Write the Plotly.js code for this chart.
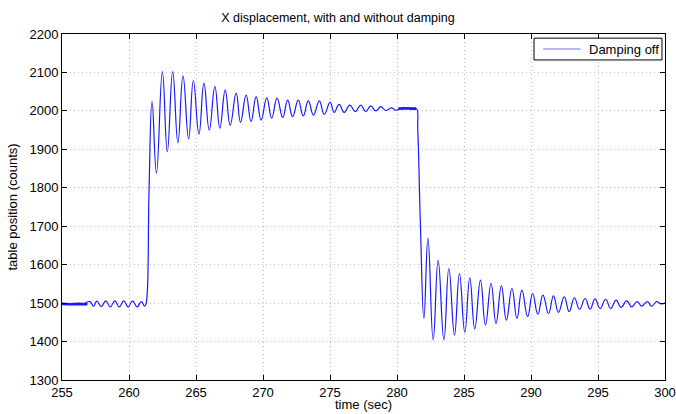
<!DOCTYPE html>
<html>
<head>
<meta charset="utf-8">
<script src="https://cdn.plot.ly/plotly-3.0.1.min.js"></script>
<style>html,body{margin:0;padding:0;background:#fff;}#chart{width:676px;height:414px;}</style>
</head>
<body>
<div id="chart"></div>
<script>
// Extrema and corner points
const timeSec = [
  255.0, 255.5, 256.0, 256.5, 257.08, 257.35, 257.6, 257.93, 258.27, 258.6, 258.94, 259.27, 259.61, 259.94, 260.26, 260.6, 260.93, 261.15, 261.25,
  261.35, 261.5, 261.72, 262.05, 262.49, 262.86, 263.26, 263.65, 264.03, 264.45, 264.80, 265.22, 265.59, 265.99, 266.41, 266.78, 267.18, 267.55, 268.0,
  268.32, 268.74, 269.11, 269.49, 269.86, 270.28, 270.65, 271.05, 271.47, 271.84, 272.21, 272.63, 273.0, 273.38, 273.77, 274.2, 274.57, 275.01,
  275.31, 275.68, 276.06, 276.48, 276.88, 277.30, 277.67, 278.04, 278.42, 278.79, 279.16, 279.58, 279.9, 280.3, 280.8, 281.2, 281.45,
  281.55, 281.75, 282.01, 282.31, 282.70, 283.07, 283.50, 283.87, 284.29, 284.66, 285.06, 285.43, 285.80, 286.23, 286.60, 287.02,
  287.39, 287.79, 288.16, 288.58, 288.95, 289.32, 289.75, 290.12, 290.51, 290.89, 291.31, 291.68, 292.05, 292.48, 292.85, 293.24,
  293.62, 294.04, 294.41, 294.78, 295.16, 295.57, 295.95, 296.35, 296.72, 297.14, 297.51, 297.93, 298.25, 298.68, 299.0, 299.37, 299.7, 300.0
];
const tablePosition = [
  1498, 1497, 1498, 1497, 1504, 1492, 1505, 1491, 1506, 1490, 1506, 1490, 1506, 1490, 1506, 1490, 1504, 1492, 1496,
  1520, 1800, 2024, 1838, 2102, 1894, 2102, 1917, 2091, 1927, 2079, 1940, 2072, 1950, 2063, 1955, 2054, 1963, 2046,
  1970, 2041, 1972, 2037, 1976, 2034, 1981, 2033, 1983, 2028, 1985, 2028, 1987, 2026, 1989, 2026, 1991, 2022,
  1996, 2017, 1996, 2015, 1998, 2015, 1998, 2013, 2000, 2011, 2001, 2008, 2002, 2006, 2007, 2006, 2006,
  1950, 1700, 1460, 1669, 1404, 1612, 1404, 1590, 1417, 1577, 1424, 1566, 1433, 1560, 1443, 1551,
  1447, 1545, 1456, 1538, 1460, 1534, 1465, 1525, 1471, 1521, 1473, 1519, 1476, 1516, 1478, 1514,
  1484, 1512, 1484, 1511, 1486, 1510, 1486, 1508, 1489, 1506, 1490, 1504, 1492, 1504, 1492, 1504, 1498, 1500
];
// Noisy (thick) band segments
const noiseTimeA = [255.0, 255.6, 256.2, 256.9];
const noiseValA = [1498, 1497, 1498, 1497];
const noiseTimeB = [280.1, 280.6, 281.1, 281.42];
const noiseValB = [2006, 2007, 2006, 2006];

const xTicks = [255, 260, 265, 270, 275, 280, 285, 290, 295, 300];
const yTicks = [1300, 1400, 1500, 1600, 1700, 1800, 1900, 2000, 2100, 2200];
const seriesName = 'Damping off';

const blue = 'rgb(25,25,255)';
const traces = [
  {x: noiseTimeA, y: noiseValA, mode: 'lines', line: {color: blue, width: 2.6}, showlegend: false, hoverinfo: 'skip'},
  {x: noiseTimeB, y: noiseValB, mode: 'lines', line: {color: blue, width: 2.6}, showlegend: false, hoverinfo: 'skip'},
  {x: timeSec, y: tablePosition, mode: 'lines', name: seriesName, showlegend: false,
   line: {color: blue, width: 1.2, shape: 'spline', smoothing: 1.3}}
];

const axisCommon = {
  showline: true, linecolor: '#000', linewidth: 1, mirror: 'ticks',
  ticks: 'inside', ticklen: 5, tickcolor: '#000', tickwidth: 1,
  showgrid: true, gridcolor: '#bcbcbc', griddash: '1px,3px', gridwidth: 1,
  zeroline: false, ticklabeloverflow: 'allow',
  tickfont: {family: 'Liberation Sans, Arial, sans-serif', size: 13, color: '#000'}
};

const layout = {
  width: 676, height: 414,
  margin: {l: 62, r: 11, t: 34, b: 34},
  paper_bgcolor: '#fff', plot_bgcolor: '#fff',
  font: {family: 'Liberation Sans, Arial, sans-serif', color: '#000'},
  title: {text: 'X displacement, with and without damping', font: {size: 12.5, color: '#000'}, x: 0.5, xanchor: 'center', y: 0.957, yanchor: 'middle'},
  xaxis: Object.assign({}, axisCommon, {
    range: [255, 300], tickvals: xTicks, ticktext: xTicks.map(String)
  }),
  yaxis: Object.assign({}, axisCommon, {
    range: [1300, 2200], tickvals: yTicks, ticktext: yTicks.map(String),
    title: {text: 'table position (counts)', font: {size: 13}, standoff: 8}
  }),
  showlegend: false,
  shapes: [
    {type: 'rect', xref: 'paper', yref: 'paper', x0: 0.7828, x1: 0.9950, y0: 0.925, y1: 0.988,
     line: {color: '#000', width: 1}, fillcolor: '#fff', layer: 'above'},
    {type: 'line', xref: 'paper', yref: 'paper', x0: 0.798, x1: 0.860, y0: 0.9566, y1: 0.9566,
     line: {color: 'rgb(110,110,240)', width: 1.2}, layer: 'above'}
  ],
  annotations: [
    {xref: 'paper', yref: 'paper', x: 0.871, y: 0.9566, xanchor: 'left', yanchor: 'middle',
     text: seriesName, showarrow: false, font: {size: 13, color: '#000'}},
    {xref: 'paper', yref: 'paper', x: 0.5, y: -0.0694, xanchor: 'center', yanchor: 'middle',
     text: 'time (sec)', showarrow: false, font: {size: 13, color: '#000'}}
  ]
};

Plotly.newPlot('chart', traces, layout, {displayModeBar: false, staticPlot: true});
</script>
</body>
</html>
